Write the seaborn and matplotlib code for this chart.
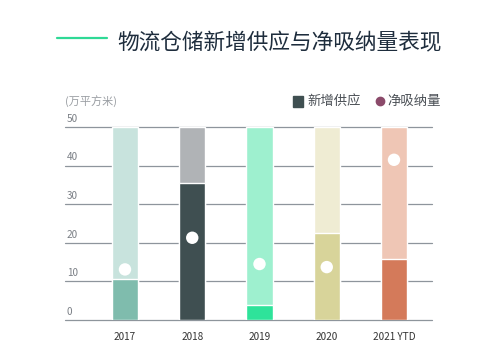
import matplotlib
matplotlib.use("Agg")
import matplotlib.pyplot as plt
import seaborn as sns
import pandas as pd
from matplotlib.lines import Line2D
from matplotlib.patches import Rectangle

sns.set_theme(style="white")
plt.rcParams['font.family'] = ['Noto Sans CJK SC', 'DejaVu Sans']

# Data
years = ["2017", "2018", "2019", "2020", "2021 YTD"]
new_supply = [10.6, 35.4, 3.9, 22.5, 15.9]
net_absorption = [13.1, 21.3, 14.5, 13.7, 41.5]
axis_max = 50
y_ticks = [0, 10, 20, 30, 40, 50]

supply_colors = ["#7fbcad", "#3f4f51", "#2ee39a", "#d8d49a", "#d47a5a"]
bg_colors = ["#c8e3dd", "#b0b3b6", "#9ef0cf", "#efecd3", "#efc6b5"]

df = pd.DataFrame({"year": years, "supply": new_supply,
                   "absorb": net_absorption, "full": [axis_max] * len(years)})

fig = plt.figure(figsize=(5.0, 3.63), dpi=100)
ax = fig.add_axes([0.13, 0.1185, 0.734, 0.5317])

for v in y_ticks:
    ax.axhline(v, color="#8e959c", lw=0.9, zorder=0, clip_on=False)
    ax.text(0.005, v + 0.8, str(v), transform=ax.get_yaxis_transform(),
            ha="left", va="bottom", fontsize=7.2, color="#7a7f85")

bw = 0.387
sns.barplot(data=df, x="year", y="full", hue="year", palette=bg_colors,
            width=bw, legend=False, ax=ax, zorder=2, saturation=1)
sns.barplot(data=df, x="year", y="supply", hue="year", palette=supply_colors,
            width=bw, legend=False, ax=ax, zorder=3, saturation=1)
sns.scatterplot(data=df, x="year", y="absorb", color="white", s=80,
                edgecolor="none", ax=ax, zorder=4)

ax.set_xlim(-0.892, 4.565)
ax.set_ylim(0, axis_max)
ax.set_yticks([])
ax.set_xlabel("")
ax.set_ylabel("")
ax.tick_params(axis="x", length=0, pad=9, labelsize=7.2, labelcolor="#333333")
for lbl in ax.get_xticklabels():
    lbl.set_fontweight("medium")
for s in ax.spines.values():
    s.set_visible(False)

# Title and decorations
fig.add_artist(Line2D([57 / 500, 107 / 500], [1 - 38 / 363, 1 - 38 / 363],
                      color="#2fd996", lw=1.6))
fig.text(117 / 500, 1 - 43 / 363, "物流仓储新增供应与净吸纳量表现",
         ha="left", va="center", fontsize=15.6, color="#1e2d3d")
fig.text(65 / 500, 1 - 101 / 363, "(万平方米)", ha="left", va="center",
         fontsize=8, color="#9a9ea3")

# Legend
fig.add_artist(Rectangle((293 / 500, 1 - 107 / 363), 10 / 500, 11 / 363,
                         color="#3f4f51", transform=fig.transFigure))
fig.text(307 / 500, 1 - 101 / 363, "新增供应", ha="left", va="center",
         fontsize=9.6, color="#4a4f55")
fig.add_artist(Line2D([380 / 500], [1 - 101 / 363], marker="o", markersize=6,
                      color="#8b4a6a", lw=0))
fig.text(387 / 500, 1 - 101 / 363, "净吸纳量", ha="left", va="center",
         fontsize=9.6, color="#4a4f55")

fig.savefig("out.png", dpi=100)
